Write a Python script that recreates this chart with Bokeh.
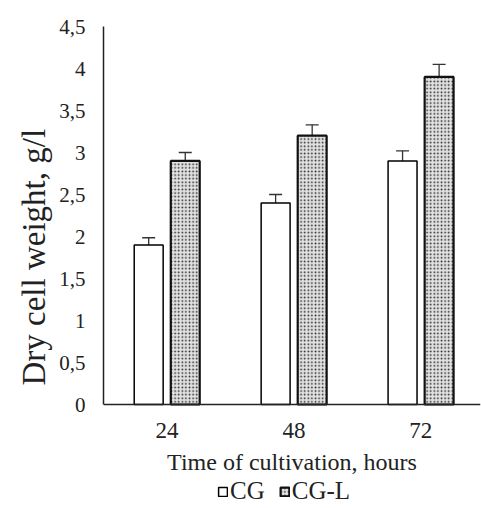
from bokeh.plotting import figure
from bokeh.models import (Range1d, FixedTicker, Whisker, TeeHead, ColumnDataSource,
                          Legend, LegendItem, Title)
from bokeh.embed import file_html
from bokeh.resources import INLINE

# ---- data ----
hours = ["24", "48", "72"]
cg = [1.9, 2.4, 2.9]
cg_err = [0.085, 0.10, 0.12]
cgl = [2.9, 3.2, 3.9]
cgl_err = [0.10, 0.13, 0.15]
y_ticks = [0, 0.5, 1, 1.5, 2, 2.5, 3, 3.5, 4, 4.5]
y_tick_labels = ["0", "0,5", "1", "1,5", "2", "2,5", "3", "3,5", "4", "4,5"]
series_labels = ["CG", "CG-L"]
x_title = "Time of cultivation, hours"
y_title = "Dry cell weight, g/l"

FONT = "Liberation Serif"
OFFSET = 0.144
BAR_W = 0.228
PX_PER_UNIT = 84.0      # vertical scale of the value axis
BELOW_PX = 102          # room below the zero line for labels and legend

centers = [i + 0.5 for i in range(len(hours))]

src_cg = ColumnDataSource(dict(
    x=[c - OFFSET for c in centers], top=cg,
    lo=[v - e for v, e in zip(cg, cg_err)], hi=[v + e for v, e in zip(cg, cg_err)]))
src_cgl = ColumnDataSource(dict(
    x=[c + OFFSET for c in centers], top=cgl,
    lo=[v - e for v, e in zip(cgl, cgl_err)], hi=[v + e for v, e in zip(cgl, cgl_err)]))

y_top = y_ticks[-1]
y_bottom = y_ticks[0] - BELOW_PX / PX_PER_UNIT
frame_h = int(round((y_top - y_bottom) * PX_PER_UNIT))

p = figure(frame_width=377, frame_height=frame_h, output_backend="svg",
           toolbar_location=None,
           x_range=Range1d(0, 2.97), y_range=Range1d(y_bottom, y_top),
           min_border_left=103, min_border_top=26, min_border_bottom=2,
           min_border_right=1)
p.outline_line_color = None
p.xgrid.grid_line_color = None
p.ygrid.grid_line_color = None
p.background_fill_color = "white"
p.border_fill_color = "white"

r1 = p.vbar(x="x", top="top", bottom=y_ticks[0], width=BAR_W, source=src_cg,
            fill_color="white", line_color="black", line_width=1.5)
r2 = p.vbar(x="x", top="top", bottom=y_ticks[0], width=BAR_W, source=src_cgl,
            fill_color="#e2e2e2", line_color="#111111", line_width=2.2,
            hatch_pattern="dot", hatch_color="#222222", hatch_scale=3.6,
            hatch_weight=1.6)

for src in (src_cg, src_cgl):
    w = Whisker(base="x", lower="lo", upper="hi", source=src,
                line_color="#333333", line_width=1.3,
                upper_head=TeeHead(size=13, line_color="#333333", line_width=1.3),
                lower_head=TeeHead(size=13, line_color="#333333", line_width=1.3))
    p.add_layout(w)

# axes
p.xaxis.ticker = FixedTicker(ticks=centers)
p.xaxis.major_label_overrides = {c: h for c, h in zip(centers, hours)}
p.xaxis.fixed_location = y_ticks[0]
p.yaxis.ticker = FixedTicker(ticks=y_ticks)
p.yaxis.major_label_overrides = {t: l for t, l in zip(y_ticks, y_tick_labels)}
p.yaxis.bounds = (y_ticks[0], y_ticks[-1])

for ax in (p.xaxis, p.yaxis):
    ax.major_tick_line_color = None
    ax.minor_tick_line_color = None
    ax.major_tick_out = 0
    ax.major_tick_in = 0
    ax.axis_line_color = "#222222"
    ax.axis_line_width = 1.5
    ax.major_label_text_font = FONT
    ax.axis_label_text_font = FONT
    ax.axis_label_text_font_style = "normal"
    ax.major_label_text_color = "#222222"
    ax.axis_label_text_color = "#222222"

p.xaxis.axis_label = x_title
p.xaxis.major_label_text_font_size = "23px"
p.xaxis.axis_label_text_font_size = "24px"
p.xaxis.major_label_standoff = 18
p.xaxis.axis_label_standoff = 8

p.yaxis.major_label_text_font_size = "21px"
p.yaxis.major_label_standoff = 18

ytitle = Title(text=y_title, align="left", offset=121, standoff=10,
               text_font=FONT, text_font_size="33px", text_font_style="normal",
               text_color="#222222")
p.add_layout(ytitle, "left")

legend = Legend(items=[LegendItem(label=series_labels[0], renderers=[r1]),
                       LegendItem(label=series_labels[1], renderers=[r2])],
                orientation="horizontal", location=(114, 1))
legend.label_text_font = FONT
legend.label_text_font_size = "25px"
legend.label_text_color = "#222222"
legend.glyph_width = 11
legend.glyph_height = 11
legend.label_standoff = 2
legend.spacing = 14
legend.padding = 0
legend.margin = 0
legend.border_line_color = None
legend.background_fill_alpha = 0
p.add_layout(legend, "center")

open("out.html", "w").write(file_html(p, INLINE))
